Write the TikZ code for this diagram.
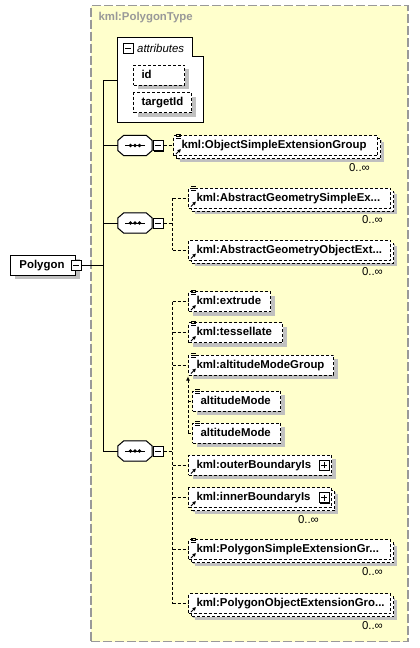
\documentclass[tikz,border=0pt]{standalone}
\usepackage{fontspec}
\setmainfont{Liberation Sans}
\usetikzlibrary{positioning, calc, shadows, arrows.meta}

\definecolor{panelyellow}{HTML}{FFFFCC}
\definecolor{shadowgray}{HTML}{C0C0C0}
\definecolor{framegray}{HTML}{999999}
\newcommand{\diagfont}{\fontsize{11.4}{13}\selectfont}

\begin{document}
\begin{tikzpicture}[x=1pt, y=-1pt, font=\diagfont]
\tikzset{
    typebox/.style={
        draw=framegray, fill=panelyellow, line width=1.2pt,
        dash pattern=on 9pt off 3pt,
        minimum width=317pt, minimum height=636pt, inner sep=0pt,
    },
    boxshadow/.style={
        general shadow={fill=shadowgray, shadow xshift=4pt, shadow yshift=-4pt},
    },
    elembox/.style={
        draw=black, fill=white, line width=1pt,
        dash pattern=on 3pt off 2pt, boxshadow,
        anchor=west, minimum height=20pt, inner xsep=8pt, inner ysep=0pt,
        text height=8.5pt, text depth=2.5pt, align=left,
        font=\diagfont\bfseries,
    },
    multibox/.style={
        elembox,
        general shadow={fill=shadowgray, shadow xshift=6pt, shadow yshift=-6pt},
        copy shadow={shadow xshift=3pt, shadow yshift=-3pt, draw=black, fill=white},
    },
    rootbox/.style={
        elembox, solid, inner xsep=9pt,
    },
    seqbox/.style={
        minimum width=34pt, minimum height=20pt, inner sep=0pt,
    },
    minusbtn/.style={
        draw=black, fill=white, line width=1pt, minimum size=10pt, inner sep=0pt,
        general shadow={fill=black, shadow xshift=1pt, shadow yshift=-1pt},
        path picture={
            \draw[line width=1pt] ([xshift=2pt]path picture bounding box.west)
                -- ([xshift=-2pt]path picture bounding box.east);
        },
    },
    plusbtn/.style={
        minusbtn,
        path picture={
            \draw[line width=1pt] ([xshift=2pt]path picture bounding box.west)
                -- ([xshift=-2pt]path picture bounding box.east);
            \draw[line width=1pt] ([yshift=2pt]path picture bounding box.south)
                -- ([yshift=-2pt]path picture bounding box.north);
        },
    },
    occurs/.style={anchor=north east, inner sep=0pt, font=\diagfont},
    link/.style={line width=1pt},
    optlink/.style={line width=1pt, dash pattern=on 3pt off 2pt},
}

    \useasboundingbox (0,0) rectangle (420,648);

    % type frame
    \node[typebox] (typeframe) at (249.5,323.5) {};
    \node[anchor=west, text=framegray, font=\diagfont\bfseries] (typename) at (95,18) {kml:PolygonType};

    % root element
    \node[rootbox, text width=47pt] (polygon) at (10,265) {Polygon};
    \node[minusbtn] (polybtn) at (polygon.east) {};
    \coordinate (trunk) at (103,0);

    % attributes
    \node[minimum width=85pt, minimum height=84pt, inner sep=0pt] (attr) at (160.5,80) {};
    \draw[link, fill=white] (attr.south west) -- (attr.north west)
        -- ([xshift=-11pt]attr.north east) -- ([xshift=-11pt, yshift=-19pt]attr.north east)
        -- ([yshift=-19pt]attr.north east) -- (attr.south east) -- cycle;
    \node[minusbtn] (attrbtn) at (128,48) {};
    \node[anchor=west, inner sep=0pt, font=\diagfont\itshape] (attrlabel) at (137,48) {attributes};
    \node[elembox, text width=35pt] (id) at (133,75) {id};
    \node[elembox, text width=42pt] (targetid) at (133,102.5) {targetId};

    % sequences
    \node[seqbox] (seqA) at (135,145.5) {};
    \node[seqbox] (seqB) at (135,223) {};
    \node[seqbox] (seqC) at (135,451) {};
    \foreach \n in {seqA, seqB, seqC} {
        \foreach \s/\f/\c in {4/shadowgray/shadowgray, 0/white/black}
            \filldraw[link, fill=\f, draw=\c, shift={(\s,\s)}]
                ([yshift=5pt]\n.west) -- ([xshift=6pt]\n.north west)
                -- ([xshift=-6pt]\n.north east) -- ([yshift=5pt]\n.east)
                -- ([yshift=-5pt]\n.east) -- ([xshift=-6pt]\n.south east)
                -- ([xshift=6pt]\n.south west) -- ([yshift=-5pt]\n.west) -- cycle;
        \draw[link] ([xshift=-10pt]\n.center) -- ([xshift=10pt]\n.center);
        \foreach \d in {-4.5,0,4.5}
            \fill ([xshift=\d pt]\n.center) circle[radius=1.8pt];
    }
    \node[minusbtn] (seqAbtn) at (158,145.5) {};
    \node[minusbtn] (seqBbtn) at (158,223) {};
    \node[minusbtn] (seqCbtn) at (158,451) {};

    % children of first sequence
    \node[multibox, text width=188pt] (objsimple) at (173,145.5) {kml:ObjectSimpleExtensionGroup};

    % children of second sequence
    \node[multibox, text width=186pt] (abssimple) at (188,198) {kml:AbstractGeometrySimpleEx...};
    \node[multibox, text width=186pt] (absobj) at (188,250) {kml:AbstractGeometryObjectExt...};

    % children of third sequence
    \node[elembox, text width=66pt] (extrude) at (188,301.5) {kml:extrude};
    \node[elembox, text width=78pt] (tessellate) at (188,332.5) {kml:tessellate};
    \node[elembox, text width=129pt] (altgroup) at (188,365) {kml:altitudeModeGroup};
    \node[elembox, text width=72pt] (altA) at (192,401) {altitudeMode};
    \node[elembox, text width=72pt] (altB) at (192,433) {altitudeMode};
    \node[elembox, text width=127pt] (outer) at (188,465) {kml:outerBoundaryIs};
    \node[multibox, text width=127pt] (inner) at (188,497.5) {kml:innerBoundaryIs};
    \node[multibox, text width=186pt] (polysimple) at (188,549.5) {kml:PolygonSimpleExtensionGr...};
    \node[multibox, text width=186pt] (polyobj) at (188,603.5) {kml:PolygonObjectExtensionGro...};

    \node[plusbtn] (outerbtn) at ([xshift=-8pt]outer.east) {};
    \node[plusbtn] (innerbtn) at ([xshift=-8pt]inner.east) {};

    % occurrence labels
    \foreach \n in {objsimple, abssimple, absobj, polysimple, polyobj}
        \node[occurs] (\n occ) at ([xshift=-8pt, yshift=-7pt]\n.south east) {0..∞};
    \node[occurs] (inneroccurs) at ([xshift=-13pt, yshift=-7pt]inner.south east) {0..∞};

    % icons
    \foreach \n in {objsimple, abssimple, extrude, tessellate, altgroup, altA, altB, polysimple}
        \foreach \k in {1,-1,-3}
            \draw[line width=0.9pt] ([xshift=3pt, yshift=\k pt]\n.north west) -- ++(5,0);
    \foreach \n in {objsimple, abssimple, absobj, extrude, tessellate, altgroup, outer, inner, polysimple, polyobj}
        \draw[line width=1pt, -{Latex[length=3.5pt, width=4pt]}] ([xshift=3pt, yshift=2pt]\n.south west) -- ++(5,-5);

    % solid connectors
    \draw[link] (polybtn.east) -- (polybtn.east -| trunk);
    \draw[link] (trunk |- attr.west) -- (trunk |- seqC.west);
    \foreach \n in {attr, seqA, seqB, seqC}
        \draw[link] (trunk |- \n.west) -- (\n.west);

    % dashed connectors
    \draw[optlink] (seqAbtn.east) -- (objsimple.west);

    \draw[optlink] (seqBbtn.east) -- ++(9,0) coordinate (forkB);
    \draw[optlink] (forkB |- abssimple.west) -- (forkB |- absobj.west);
    \foreach \n in {abssimple, absobj}
        \draw[optlink] (forkB |- \n.west) -- (\n.west);

    \draw[optlink] (seqCbtn.east) -- ++(9,0) coordinate (forkC);
    \draw[optlink] (forkC |- extrude.west) -- (forkC |- polyobj.west);
    \foreach \n in {extrude, tessellate, altgroup, outer, inner, polysimple, polyobj}
        \draw[optlink] (forkC |- \n.west) -- (\n.west);

    % substitution group
    \draw[optlink, -{Latex[length=4pt, width=4pt]}] (altgroup.south west |- altB.west)
        -- ([yshift=-1pt]altgroup.south west);
    \foreach \n in {altA, altB}
        \draw[optlink] (altgroup.south west |- \n.west) -- (\n.west);

\end{tikzpicture}
\end{document}
